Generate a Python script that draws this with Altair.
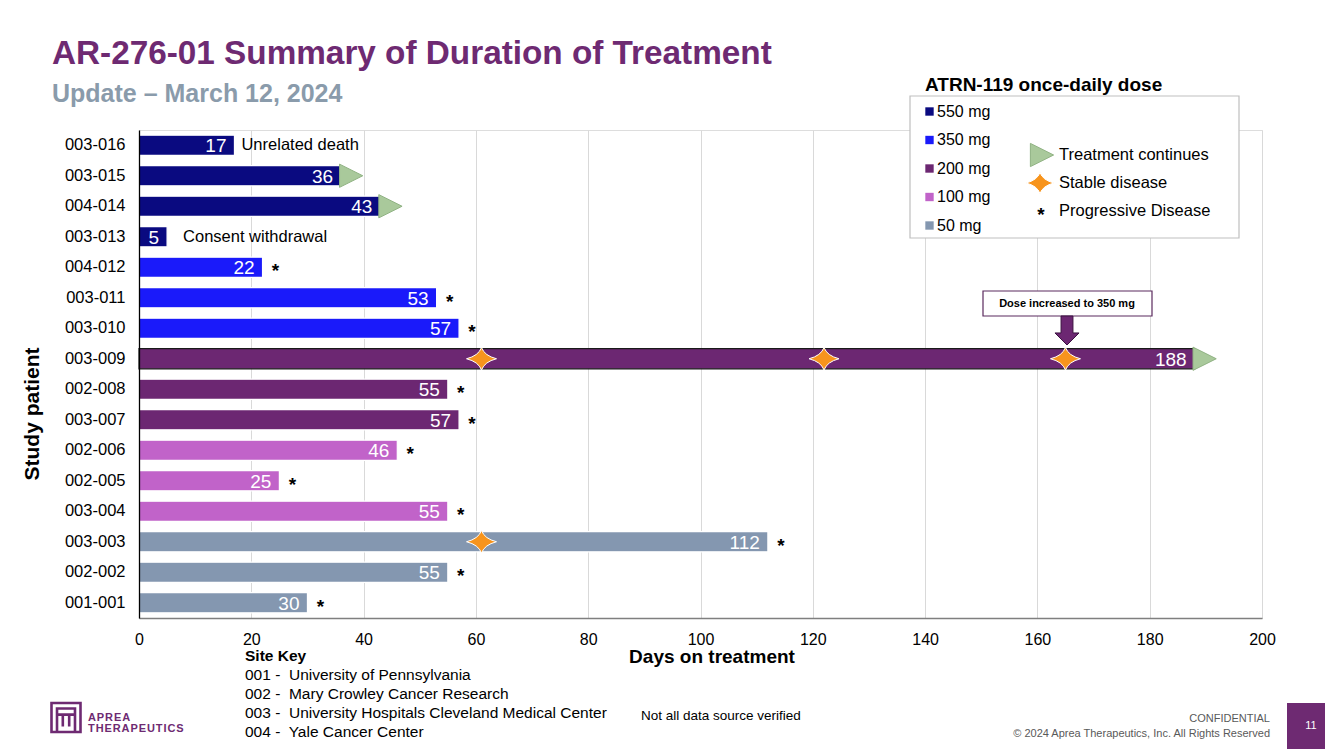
import altair as alt
import pandas as pd

# ---------------- data ----------------
patients = ["003-016", "003-015", "004-014", "003-013", "004-012", "003-011", "003-010",
            "003-009", "002-008", "003-007", "002-006", "002-005", "003-004", "003-003",
            "002-002", "001-001"]
days = [17, 36, 43, 5, 22, 53, 57, 188, 55, 57, 46, 25, 55, 112, 55, 30]
doses = ["550 mg", "550 mg", "550 mg", "550 mg",
         "350 mg", "350 mg", "350 mg",
         "200 mg", "200 mg", "200 mg",
         "100 mg", "100 mg", "100 mg",
         "50 mg", "50 mg", "50 mg"]
dose_levels = ["550 mg", "350 mg", "200 mg", "100 mg", "50 mg"]
dose_colors = ["#0A0A80", "#1A1AFA", "#6C2772", "#C163C9", "#8497B0"]

continues_patients = ["003-015", "004-014", "003-009"]
progressive_patients = ["004-012", "003-011", "003-010", "002-008", "003-007", "002-006",
                        "002-005", "003-004", "003-003", "002-002", "001-001"]
stable_patients = ["003-009", "003-009", "003-009", "003-003"]
stable_days = [61, 122, 165, 61]
notes = {"003-016": "Unrelated death", "003-013": "Consent withdrawal"}
escalated_patient = "003-009"

x_ticks = list(range(0, 201, 20))
site_key = ["001 -\u00a0 University of Pennsylvania",
            "002 -\u00a0 Mary Crowley Cancer Research",
            "003 -\u00a0 University Hospitals Cleveland Medical Center",
            "004 -\u00a0 Yale Cancer Center"]
legend_markers = ["Treatment continues", "Stable disease", "Progressive Disease"]

# ---------------- style ----------------
F = "Liberation Sans"
PURPLE = "#6E2A72"
W, H = 1123, 488

df = pd.DataFrame({"patient": patients, "days": days, "dose": doses})
one = pd.DataFrame({"k": [0]})

yscale = alt.Scale(domain=patients, paddingInner=0.34, paddingOuter=0.17)
xscale = alt.Scale(domain=[0, 200], nice=False)

y_axis = alt.Axis(title=None, labelFontSize=16.5, labelFont=F, labelColor="black",
                  ticks=False, tickSize=0, labelPadding=14, domainColor="#000000",
                  domainWidth=1.3, grid=False, zindex=1)
x_axis = alt.Axis(title=None, values=x_ticks, grid=True, gridColor="#D9D9D9",
                  gridWidth=1, ticks=False, tickSize=0, labelPadding=13, labelFontSize=16,
                  labelFont=F, labelColor="black", domainColor="#7F7F7F",
                  domainWidth=1.5, labelFlush=False, zindex=0)


def Y():
    return alt.Y("patient:N", sort=patients, scale=yscale, axis=y_axis)


def X(field="days:Q"):
    return alt.X(field, scale=xscale, axis=x_axis)


color = alt.Color("dose:N", scale=alt.Scale(domain=dose_levels, range=dose_colors), legend=None)

bars = alt.Chart(df).mark_bar(strokeWidth=1.2).encode(
    x=X(), y=Y(), color=color,
    stroke=alt.condition(alt.datum.patient == escalated_patient, alt.value("#1a1a1a"),
                         alt.value("white")),
)

bar_labels = alt.Chart(df).mark_text(align="right", baseline="middle", dx=-8, dy=1,
                                     color="white", font=F, fontSize=19).encode(
    x=X(), y=Y(), text="days:Q")

TRI = "M-1,-1L1,0L-1,1Z"
STAR = "M0,-0.75Q0.2,-0.2 1,0Q0.2,0.2 0,0.75Q-0.2,0.2 -1,0Q-0.2,-0.2 0,-0.75Z"
ARROW = "M-0.41,-1L0.41,-1L0.41,0.17L0.83,0.17L0,1L-0.83,0.17L-0.41,0.17Z"

cont_df = df[df.patient.isin(continues_patients)]
tri = alt.Chart(cont_df).mark_point(shape=TRI, size=540, filled=True, fill="#A9C99B",
                                   stroke="#8FB282", strokeWidth=1, opacity=1,
                                   xOffset=10).encode(x=X(), y=Y())

pd_df = df[df.patient.isin(progressive_patients)]
aster = alt.Chart(pd_df).mark_text(text="*", align="center", baseline="middle", dx=13, dy=4,
                                   font=F, fontSize=19, fontWeight="bold",
                                   color="black").encode(x=X(), y=Y())

stable_df = pd.DataFrame({"patient": stable_patients, "day": stable_days})
stars = alt.Chart(stable_df).mark_point(shape=STAR, size=900, filled=True, fill="#F7941D",
                                       stroke="white", strokeWidth=1, opacity=1).encode(
    x=X("day:Q"), y=Y())

note_layers = []
for (p, t), off in zip(notes.items(), [7, 16]):
    ndf = df[df.patient == p].assign(note=t)
    note_layers.append(alt.Chart(ndf).mark_text(align="left", baseline="middle", dx=off,
                                                font=F, fontSize=16.5, color="black").encode(
        x=X(), y=Y(), text="note:N"))


def txt(s, px, py, size=15, weight="normal", col="black", align="left", angle=0,
        baseline="middle"):
    kw = dict(align=align, baseline=baseline, font=F, fontSize=size, fontWeight=weight,
              color=col, text=s)
    if angle:
        kw["angle"] = angle
    return alt.Chart(one).mark_text(**kw).encode(x=alt.value(px - 139), y=alt.value(py - 130))


def rect(x1, y1, x2, y2, fill, stroke=None, sw=1):
    kw = dict(fill=fill)
    if stroke:
        kw.update(stroke=stroke, strokeWidth=sw)
    return alt.Chart(one).mark_rect(**kw).encode(
        x=alt.value(x1 - 139), x2=alt.value(x2 - 139), y=alt.value(y1 - 130),
        y2=alt.value(y2 - 130))


def sym(shape, px, py, size, fill=None, stroke=None, sw=1):
    kw = dict(shape=shape, size=size, opacity=1)
    if fill:
        kw.update(filled=True, fill=fill)
    else:
        kw.update(filled=False, fill="transparent")
    if stroke:
        kw.update(stroke=stroke, strokeWidth=sw)
    return alt.Chart(one).mark_point(**kw).encode(x=alt.value(px - 139), y=alt.value(py - 130))


deco = []
# titles
deco.append(txt("AR-276-01 Summary of Duration of Treatment", 52, 64, 33.3, "bold", PURPLE,
                baseline="alphabetic"))
deco.append(txt("Update \u2013 March 12, 2024", 52, 102, 25, "bold", "#8A9BAB",
                baseline="alphabetic"))
# axis titles
deco.append(txt("Study patient", 33, 414, 21, "bold", align="center", angle=270))
deco.append(txt("Days on treatment", 712, 657, 19, "bold", align="center"))

# legend box
deco.append(rect(910, 96, 1239, 238, "white", "#BFBFBF", 1.2))
deco.append(txt("ATRN-119 once-daily dose", 925, 85, 19, "bold"))
leg_y = [111.5, 140, 168.5, 197, 225.5]
leg_df = pd.DataFrame({"dose": dose_levels, "yy": [v - 130 for v in leg_y]})
legend_sq = alt.Chart(leg_df).mark_point(shape="square", size=70, filled=True, opacity=1).encode(
    x=alt.value(929.5 - 139), y=alt.Y("yy:Q", scale=None), color=color)
legend_tx = alt.Chart(leg_df).mark_text(align="left", baseline="middle", font=F, fontSize=16,
                                        color="black").encode(
    x=alt.value(937 - 139), y=alt.Y("yy:Q", scale=None), text="dose:N")
deco.append(sym(TRI, 1042, 155, 540, "#A9C99B", "#8FB282"))
deco.append(sym(STAR, 1040, 183, 780, "#F7941D", "white"))
deco.append(txt("*", 1041, 215, 19, "bold", align="center"))
for t, yy in zip(legend_markers, [155, 183, 211]):
    deco.append(txt(t, 1059, yy, 16.5))

# dose increase call-out
deco.append(rect(983, 291, 1152, 316, "white", "#5B2A5E", 1.2))
deco.append(txt("Dose increased to 350 mg", 1067, 304, 11, "bold", align="center"))
deco.append(sym(ARROW, 1067, 330.5, 841, "#6C2772", "#3B1240", 1))

# site key
deco.append(txt("Site Key", 245, 656, 15.5, "bold"))
for i, s in enumerate(site_key):
    deco.append(txt(s, 245, 675 + i * 19, 15.5))

# footer
deco.append(txt("Not all data source verified", 641, 716, 13.5))
deco.append(txt("CONFIDENTIAL", 1270, 719, 11, col="#595959", align="right"))
deco.append(txt("\u00a9 2024 Aprea Therapeutics, Inc. All Rights Reserved", 1270, 734, 11,
                col="#595959", align="right"))
deco.append(rect(1287, 703, 1400, 800, PURPLE))
deco.append(txt("11", 1311, 726, 11, col="white", align="center"))

# logo
LOGO = ("M-1,-1H1V1H-1Z M-0.62,1V-0.62H0.62V1 M-0.62,-0.2H0.62 "
        "M-0.22,-0.2V0.62 M0.22,-0.2V0.62")
deco.append(sym(LOGO, 66, 717.5, 841, None, PURPLE, 2.6))
deco.append(txt("\u200a".join("APREA"), 88, 718, 11, "bold", PURPLE))
deco.append(txt("\u200a".join("THERAPEUTICS"), 88, 729, 11, "bold", PURPLE))

chart = alt.layer(
    bars, bar_labels, tri, aster, stars, *note_layers, *deco, legend_sq, legend_tx
).properties(
    width=W, height=H,
    autosize=alt.AutoSizeParams(type="none"),
    padding={"left": 131, "top": 122, "right": 63, "bottom": 131},
).configure_view(strokeWidth=0).configure(background="white")

chart.save("out.html", embed_options={"renderer": "svg", "actions": False})
